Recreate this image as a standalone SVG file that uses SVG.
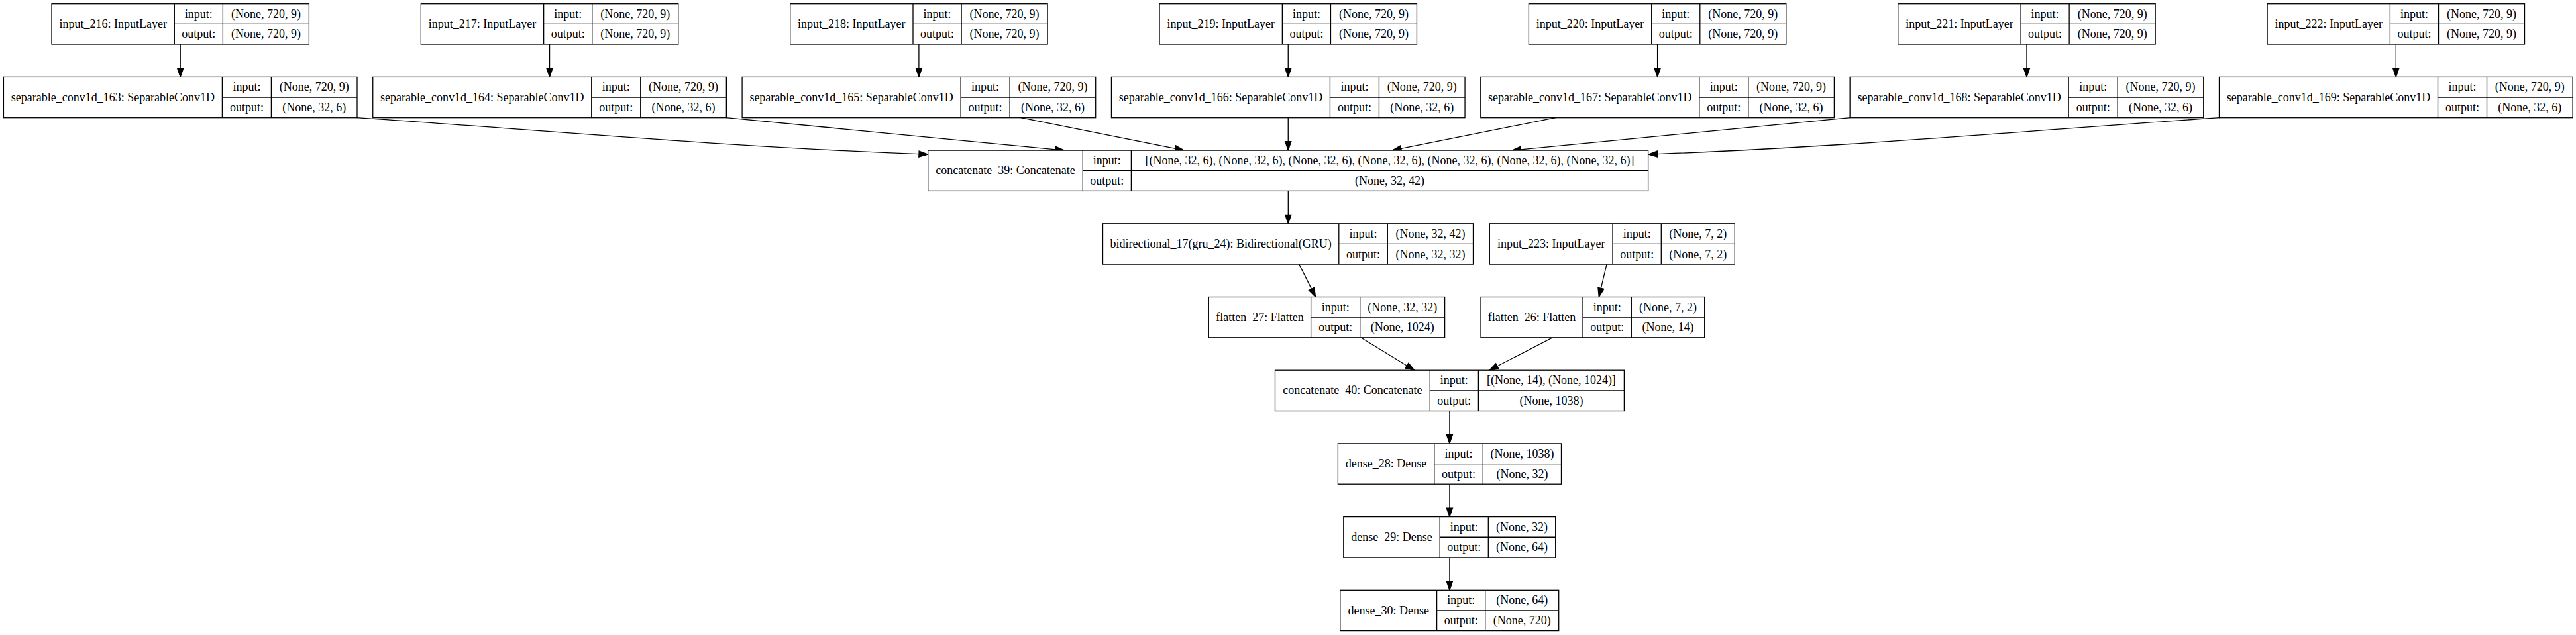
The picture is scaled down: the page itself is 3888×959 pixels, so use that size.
<svg xmlns="http://www.w3.org/2000/svg" width="3888" height="959" viewBox="0 0 3888 959">
<style>
.b{fill:#fff;stroke:#000;stroke-width:1.3}
.l{fill:none;stroke:#000;stroke-width:1.3}
.t{font-family:"Liberation Serif","Times New Roman",serif;font-size:18px;text-anchor:middle;fill:#000}
.e{fill:none;stroke:#000;stroke-width:1.3;marker-end:url(#ah)}
</style>
<defs>
<marker id="ah" markerUnits="userSpaceOnUse" viewBox="-1 -6 16 12" markerWidth="16" markerHeight="12" refX="0" refY="0" orient="auto">
<path d="M0,-4.6 L13.5,0 L0,4.6 Z" fill="#000" stroke="#000" stroke-width="1.3"/>
</marker>
</defs>
<rect width="3888" height="959" fill="#fff"/>
<g id="edges">
<path class="e" d="M272.2,67 V102.9"/>
<path class="e" d="M829.55,67 V102.9"/>
<path class="e" d="M1386.9,67 V102.9"/>
<path class="e" d="M1944.25,67 V102.9"/>
<path class="e" d="M2501.6,67 V102.9"/>
<path class="e" d="M3058.95,67 V102.9"/>
<path class="e" d="M3616.3,67 V102.9"/>
<path class="e" d="M538.5,177.7 C838,198 1087,221 1387,232.6"/>
<path class="e" d="M1096,177.7 L1593.1,225.8"/>
<path class="e" d="M1540.7,177.7 L1773.8,224.4"/>
<path class="e" d="M1944.25,177.7 V213.6"/>
<path class="e" d="M2347.9,177.7 L2114.8,224.4"/>
<path class="e" d="M2792.6,177.7 L2295.5,225.8"/>
<path class="e" d="M3350.1,177.7 C3050.6,198 2801.6,221 2501.6,232.6"/>
<path class="e" d="M1944.3,288.4 V324.3"/>
<path class="e" d="M1960.8,399.1 L1979.5,436.4"/>
<path class="e" d="M2425,399.1 L2416.4,435.4"/>
<path class="e" d="M2054,509.8 L2123.4,552.2"/>
<path class="e" d="M2343,509.8 L2259.8,553"/>
<path class="e" d="M2187.9,620.5 V656.4"/>
<path class="e" d="M2187.9,731.2 V767.1"/>
<path class="e" d="M2187.9,841.9 V877.8"/>
</g>
<g id="input_216">
<rect class="b" x="78" y="5.7" width="388.4" height="61.3"/>
<path class="l" d="M263.3,5.7 V67 M336.4,5.7 V67 M263.3,36.35 H466.4"/>
<text class="t" x="170.65" y="41.9">input_216: InputLayer</text>
<text class="t" x="299.85" y="26.7">input:</text>
<text class="t" x="299.85" y="57.4">output:</text>
<text class="t" x="401.4" y="26.7">(None, 720, 9)</text>
<text class="t" x="401.4" y="57.4">(None, 720, 9)</text>
</g>
<g id="input_217">
<rect class="b" x="635.35" y="5.7" width="388.4" height="61.3"/>
<path class="l" d="M820.65,5.7 V67 M893.75,5.7 V67 M820.65,36.35 H1023.75"/>
<text class="t" x="728" y="41.9">input_217: InputLayer</text>
<text class="t" x="857.2" y="26.7">input:</text>
<text class="t" x="857.2" y="57.4">output:</text>
<text class="t" x="958.75" y="26.7">(None, 720, 9)</text>
<text class="t" x="958.75" y="57.4">(None, 720, 9)</text>
</g>
<g id="input_218">
<rect class="b" x="1192.7" y="5.7" width="388.4" height="61.3"/>
<path class="l" d="M1378,5.7 V67 M1451.1,5.7 V67 M1378,36.35 H1581.1"/>
<text class="t" x="1285.35" y="41.9">input_218: InputLayer</text>
<text class="t" x="1414.55" y="26.7">input:</text>
<text class="t" x="1414.55" y="57.4">output:</text>
<text class="t" x="1516.1" y="26.7">(None, 720, 9)</text>
<text class="t" x="1516.1" y="57.4">(None, 720, 9)</text>
</g>
<g id="input_219">
<rect class="b" x="1750.05" y="5.7" width="388.4" height="61.3"/>
<path class="l" d="M1935.35,5.7 V67 M2008.45,5.7 V67 M1935.35,36.35 H2138.45"/>
<text class="t" x="1842.7" y="41.9">input_219: InputLayer</text>
<text class="t" x="1971.9" y="26.7">input:</text>
<text class="t" x="1971.9" y="57.4">output:</text>
<text class="t" x="2073.45" y="26.7">(None, 720, 9)</text>
<text class="t" x="2073.45" y="57.4">(None, 720, 9)</text>
</g>
<g id="input_220">
<rect class="b" x="2307.4" y="5.7" width="388.4" height="61.3"/>
<path class="l" d="M2492.7,5.7 V67 M2565.8,5.7 V67 M2492.7,36.35 H2695.8"/>
<text class="t" x="2400.05" y="41.9">input_220: InputLayer</text>
<text class="t" x="2529.25" y="26.7">input:</text>
<text class="t" x="2529.25" y="57.4">output:</text>
<text class="t" x="2630.8" y="26.7">(None, 720, 9)</text>
<text class="t" x="2630.8" y="57.4">(None, 720, 9)</text>
</g>
<g id="input_221">
<rect class="b" x="2864.75" y="5.7" width="388.4" height="61.3"/>
<path class="l" d="M3050.05,5.7 V67 M3123.15,5.7 V67 M3050.05,36.35 H3253.15"/>
<text class="t" x="2957.4" y="41.9">input_221: InputLayer</text>
<text class="t" x="3086.6" y="26.7">input:</text>
<text class="t" x="3086.6" y="57.4">output:</text>
<text class="t" x="3188.15" y="26.7">(None, 720, 9)</text>
<text class="t" x="3188.15" y="57.4">(None, 720, 9)</text>
</g>
<g id="input_222">
<rect class="b" x="3422.1" y="5.7" width="388.4" height="61.3"/>
<path class="l" d="M3607.4,5.7 V67 M3680.5,5.7 V67 M3607.4,36.35 H3810.5"/>
<text class="t" x="3514.75" y="41.9">input_222: InputLayer</text>
<text class="t" x="3643.95" y="26.7">input:</text>
<text class="t" x="3643.95" y="57.4">output:</text>
<text class="t" x="3745.5" y="26.7">(None, 720, 9)</text>
<text class="t" x="3745.5" y="57.4">(None, 720, 9)</text>
</g>
<g id="separable_conv1d_163">
<rect class="b" x="5.4" y="116.4" width="533.6" height="61.3"/>
<path class="l" d="M335.4,116.4 V177.7 M409.4,116.4 V177.7 M335.4,147.05 H539"/>
<text class="t" x="170.4" y="152.6">separable_conv1d_163: SeparableConv1D</text>
<text class="t" x="372.4" y="137.4">input:</text>
<text class="t" x="372.4" y="168.1">output:</text>
<text class="t" x="474.2" y="137.4">(None, 720, 9)</text>
<text class="t" x="474.2" y="168.1">(None, 32, 6)</text>
</g>
<g id="separable_conv1d_164">
<rect class="b" x="562.75" y="116.4" width="533.6" height="61.3"/>
<path class="l" d="M892.75,116.4 V177.7 M966.75,116.4 V177.7 M892.75,147.05 H1096.35"/>
<text class="t" x="727.75" y="152.6">separable_conv1d_164: SeparableConv1D</text>
<text class="t" x="929.75" y="137.4">input:</text>
<text class="t" x="929.75" y="168.1">output:</text>
<text class="t" x="1031.55" y="137.4">(None, 720, 9)</text>
<text class="t" x="1031.55" y="168.1">(None, 32, 6)</text>
</g>
<g id="separable_conv1d_165">
<rect class="b" x="1120.1" y="116.4" width="533.6" height="61.3"/>
<path class="l" d="M1450.1,116.4 V177.7 M1524.1,116.4 V177.7 M1450.1,147.05 H1653.7"/>
<text class="t" x="1285.1" y="152.6">separable_conv1d_165: SeparableConv1D</text>
<text class="t" x="1487.1" y="137.4">input:</text>
<text class="t" x="1487.1" y="168.1">output:</text>
<text class="t" x="1588.9" y="137.4">(None, 720, 9)</text>
<text class="t" x="1588.9" y="168.1">(None, 32, 6)</text>
</g>
<g id="separable_conv1d_166">
<rect class="b" x="1677.45" y="116.4" width="533.6" height="61.3"/>
<path class="l" d="M2007.45,116.4 V177.7 M2081.45,116.4 V177.7 M2007.45,147.05 H2211.05"/>
<text class="t" x="1842.45" y="152.6">separable_conv1d_166: SeparableConv1D</text>
<text class="t" x="2044.45" y="137.4">input:</text>
<text class="t" x="2044.45" y="168.1">output:</text>
<text class="t" x="2146.25" y="137.4">(None, 720, 9)</text>
<text class="t" x="2146.25" y="168.1">(None, 32, 6)</text>
</g>
<g id="separable_conv1d_167">
<rect class="b" x="2234.8" y="116.4" width="533.6" height="61.3"/>
<path class="l" d="M2564.8,116.4 V177.7 M2638.8,116.4 V177.7 M2564.8,147.05 H2768.4"/>
<text class="t" x="2399.8" y="152.6">separable_conv1d_167: SeparableConv1D</text>
<text class="t" x="2601.8" y="137.4">input:</text>
<text class="t" x="2601.8" y="168.1">output:</text>
<text class="t" x="2703.6" y="137.4">(None, 720, 9)</text>
<text class="t" x="2703.6" y="168.1">(None, 32, 6)</text>
</g>
<g id="separable_conv1d_168">
<rect class="b" x="2792.15" y="116.4" width="533.6" height="61.3"/>
<path class="l" d="M3122.15,116.4 V177.7 M3196.15,116.4 V177.7 M3122.15,147.05 H3325.75"/>
<text class="t" x="2957.15" y="152.6">separable_conv1d_168: SeparableConv1D</text>
<text class="t" x="3159.15" y="137.4">input:</text>
<text class="t" x="3159.15" y="168.1">output:</text>
<text class="t" x="3260.95" y="137.4">(None, 720, 9)</text>
<text class="t" x="3260.95" y="168.1">(None, 32, 6)</text>
</g>
<g id="separable_conv1d_169">
<rect class="b" x="3349.5" y="116.4" width="533.6" height="61.3"/>
<path class="l" d="M3679.5,116.4 V177.7 M3753.5,116.4 V177.7 M3679.5,147.05 H3883.1"/>
<text class="t" x="3514.5" y="152.6">separable_conv1d_169: SeparableConv1D</text>
<text class="t" x="3716.5" y="137.4">input:</text>
<text class="t" x="3716.5" y="168.1">output:</text>
<text class="t" x="3818.3" y="137.4">(None, 720, 9)</text>
<text class="t" x="3818.3" y="168.1">(None, 32, 6)</text>
</g>
<g id="concatenate_39">
<rect class="b" x="1400.7" y="227.1" width="1086.9" height="61.3"/>
<path class="l" d="M1634.3,227.1 V288.4 M1707.4,227.1 V288.4 M1634.3,257.75 H2487.6"/>
<text class="t" x="1517.5" y="263.3">concatenate_39: Concatenate</text>
<text class="t" x="1670.85" y="248.1">input:</text>
<text class="t" x="1670.85" y="278.8">output:</text>
<text class="t" x="2097.5" y="248.1">[(None, 32, 6), (None, 32, 6), (None, 32, 6), (None, 32, 6), (None, 32, 6), (None, 32, 6), (None, 32, 6)]</text>
<text class="t" x="2097.5" y="278.8">(None, 32, 42)</text>
</g>
<g id="bidirectional_17">
<rect class="b" x="1664.5" y="337.8" width="559" height="61.3"/>
<path class="l" d="M2020.8,337.8 V399.1 M2094.3,337.8 V399.1 M2020.8,368.45 H2223.5"/>
<text class="t" x="1842.65" y="374">bidirectional_17(gru_24): Bidirectional(GRU)</text>
<text class="t" x="2057.55" y="358.8">input:</text>
<text class="t" x="2057.55" y="389.5">output:</text>
<text class="t" x="2158.9" y="358.8">(None, 32, 42)</text>
<text class="t" x="2158.9" y="389.5">(None, 32, 32)</text>
</g>
<g id="input_223">
<rect class="b" x="2248.3" y="337.8" width="370" height="61.3"/>
<path class="l" d="M2434,337.8 V399.1 M2507.3,337.8 V399.1 M2434,368.45 H2618.3"/>
<text class="t" x="2341.15" y="374">input_223: InputLayer</text>
<text class="t" x="2470.65" y="358.8">input:</text>
<text class="t" x="2470.65" y="389.5">output:</text>
<text class="t" x="2562.8" y="358.8">(None, 7, 2)</text>
<text class="t" x="2562.8" y="389.5">(None, 7, 2)</text>
</g>
<g id="flatten_27">
<rect class="b" x="1824.3" y="448.5" width="356.3" height="61.3"/>
<path class="l" d="M1978.6,448.5 V509.8 M2052.7,448.5 V509.8 M1978.6,479.15 H2180.6"/>
<text class="t" x="1901.45" y="484.7">flatten_27: Flatten</text>
<text class="t" x="2015.65" y="469.5">input:</text>
<text class="t" x="2015.65" y="500.2">output:</text>
<text class="t" x="2116.65" y="469.5">(None, 32, 32)</text>
<text class="t" x="2116.65" y="500.2">(None, 1024)</text>
</g>
<g id="flatten_26">
<rect class="b" x="2235" y="448.5" width="337.7" height="61.3"/>
<path class="l" d="M2389,448.5 V509.8 M2462.3,448.5 V509.8 M2389,479.15 H2572.7"/>
<text class="t" x="2312" y="484.7">flatten_26: Flatten</text>
<text class="t" x="2425.65" y="469.5">input:</text>
<text class="t" x="2425.65" y="500.2">output:</text>
<text class="t" x="2517.5" y="469.5">(None, 7, 2)</text>
<text class="t" x="2517.5" y="500.2">(None, 14)</text>
</g>
<g id="concatenate_40">
<rect class="b" x="1924.5" y="559.2" width="526.9" height="61.3"/>
<path class="l" d="M2158.3,559.2 V620.5 M2231.4,559.2 V620.5 M2158.3,589.85 H2451.4"/>
<text class="t" x="2041.4" y="595.4">concatenate_40: Concatenate</text>
<text class="t" x="2194.85" y="580.2">input:</text>
<text class="t" x="2194.85" y="610.9">output:</text>
<text class="t" x="2341.4" y="580.2">[(None, 14), (None, 1024)]</text>
<text class="t" x="2341.4" y="610.9">(None, 1038)</text>
</g>
<g id="dense_28">
<rect class="b" x="2019.4" y="669.9" width="337.1" height="61.3"/>
<path class="l" d="M2164.8,669.9 V731.2 M2238.3,669.9 V731.2 M2164.8,700.55 H2356.5"/>
<text class="t" x="2092.1" y="706.1">dense_28: Dense</text>
<text class="t" x="2201.55" y="690.9">input:</text>
<text class="t" x="2201.55" y="721.6">output:</text>
<text class="t" x="2297.4" y="690.9">(None, 1038)</text>
<text class="t" x="2297.4" y="721.6">(None, 32)</text>
</g>
<g id="dense_29">
<rect class="b" x="2027.8" y="780.6" width="319.9" height="61.3"/>
<path class="l" d="M2173.2,780.6 V841.9 M2246.3,780.6 V841.9 M2173.2,811.25 H2347.7"/>
<text class="t" x="2100.5" y="816.8">dense_29: Dense</text>
<text class="t" x="2209.75" y="801.6">input:</text>
<text class="t" x="2209.75" y="832.3">output:</text>
<text class="t" x="2297" y="801.6">(None, 32)</text>
<text class="t" x="2297" y="832.3">(None, 64)</text>
</g>
<g id="dense_30">
<rect class="b" x="2022.8" y="891.3" width="329.9" height="61.3"/>
<path class="l" d="M2168.6,891.3 V952.6 M2241.7,891.3 V952.6 M2168.6,921.95 H2352.7"/>
<text class="t" x="2095.7" y="927.5">dense_30: Dense</text>
<text class="t" x="2205.15" y="912.3">input:</text>
<text class="t" x="2205.15" y="943">output:</text>
<text class="t" x="2297.2" y="912.3">(None, 64)</text>
<text class="t" x="2297.2" y="943">(None, 720)</text>
</g>
</svg>
